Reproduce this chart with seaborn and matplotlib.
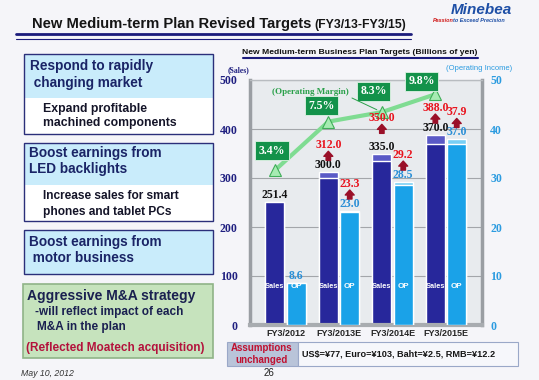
import numpy as np
import pandas as pd
import matplotlib.pyplot as plt
import matplotlib.patches as mpatches
from matplotlib.transforms import offset_copy
import seaborn as sns

# Datos del gráfico (miles de millones de yenes)
years = ['FY3/2012', 'FY3/2013E', 'FY3/2014E', 'FY3/2015E']
sales_plan = [251.4, 300.0, 335.0, 370.0]
sales_revised = [251.4, 312.0, 350.0, 388.0]
op_plan = [8.6, 23.0, 28.5, 37.0]
op_revised = [8.6, 23.3, 29.2, 37.9]
margin = [3.4, 7.5, 8.3, 9.8]
sales_ticks = [0, 100, 200, 300, 400, 500]
op_ticks = [0, 10, 20, 30, 40, 50]
fx_note = 'US$=¥77, Euro=¥103, Baht=¥2.5, RMB=¥12.2'

sns.set_style('white')
plt.rcParams['font.family'] = ['Liberation Sans', 'DejaVu Sans']
SERIF = 'Liberation Serif'

W, H = 539, 380
fig = plt.figure(figsize=(W / 100, H / 100), dpi=100, facecolor='#f5f5f9')


def fx(x):
    return x / W


def fy(y):
    return 1 - y / H


def rect(x0, y0, x1, y1, fc, ec='none', lw=0):
    fig.add_artist(mpatches.Rectangle((fx(x0), fy(y1)), (x1 - x0) / W, (y1 - y0) / H,
                                      transform=fig.transFigure, fc=fc, ec=ec, lw=lw))


def hline(x0, x1, y, color, lw):
    fig.add_artist(plt.Line2D([fx(x0), fx(x1)], [fy(y), fy(y)], color=color, lw=lw,
                              transform=fig.transFigure))


# Título de la diapositiva
fig.text(fx(32), fy(24), 'New Medium-term Plan Revised Targets', fontsize=10.6,
         fontweight='bold', va='center', color='#151515')
fig.text(fx(314), fy(25), '(FY3/13-FY3/15)', fontsize=8.8, fontweight='bold', va='center',
         color='#151515')
hline(16, 411, 34, '#1c1c7c', 2)
hline(16, 411, 38.5, '#1c1c7c', 0.8)
fig.text(fx(481), fy(10), 'Minebea', fontsize=11, fontweight='bold', style='italic',
         ha='center', va='center', color='#1e4fa6')
fig.text(fx(433), fy(21), 'Passion', fontsize=4, fontweight='bold', style='italic',
         va='center', color='#d01818')
fig.text(fx(453), fy(21), 'to Exceed Precision', fontsize=4, fontweight='bold',
         style='italic', va='center', color='#1e4fa6')

# Cuadros de la izquierda
navy = '#2b2f7a'
rect(24, 54, 213, 134, 'white')
rect(24, 54, 213, 98, '#c9ecfb')
rect(24, 54, 213, 134, 'none', navy, 1)
rect(24, 143, 213, 221, 'white')
rect(24, 143, 213, 185, '#c9ecfb')
rect(24, 143, 213, 221, 'none', navy, 1)
rect(24, 230, 213, 274, '#c9ecfb', navy, 1)
rect(23, 284, 213, 358, '#c6e3bd', '#8fb487', 1.2)

box_texts = [
    (30, 66, 'Respond to rapidly', 9.8, '#1a2466'),
    (30, 83, ' changing market', 9.8, '#1a2466'),
    (43, 109, 'Expand profitable', 8.8, '#141428'),
    (43, 123, 'machined components', 8.8, '#141428'),
    (29, 153, 'Boost earnings from', 9.8, '#1a2466'),
    (29, 169, 'LED backlights', 9.8, '#1a2466'),
    (43, 196, 'Increase sales for smart', 8.6, '#141428'),
    (43, 212, 'phones and tablet PCs', 8.6, '#141428'),
    (29, 242, 'Boost earnings from', 9.8, '#1a2466'),
    (29, 258, ' motor business', 9.8, '#1a2466'),
    (27, 296, 'Aggressive M&A strategy', 10, '#1a2050'),
    (35, 312, '-will reflect impact of each', 8.5, '#1a2050'),
    (37, 327, 'M&A in the plan', 8.5, '#1a2050'),
    (26, 348, '(Reflected Moatech acquisition)', 8.5, '#b3123c'),
]
for x, y, s, size, col in box_texts:
    fig.text(fx(x), fy(y), s, fontsize=size, fontweight='bold', va='center', color=col)

fig.text(fx(21), fy(373), 'May 10, 2012', fontsize=6.3, style='italic', va='center', color='#333333')
fig.text(fx(269), fy(373), '26', fontsize=7, ha='center', va='center', color='#222222')

# Cuadro de supuestos
rect(227, 342, 298, 366, '#b9c4d9', '#9aa8c8', 0.8)
rect(298, 342, 518, 366, '#f6f7fb', '#9aa8c8', 0.8)
fig.text(fx(262), fy(348), 'Assumptions', fontsize=7, fontweight='bold', ha='center',
         va='center', color='#c01030')
fig.text(fx(262), fy(360), 'unchanged', fontsize=7, fontweight='bold', ha='center',
         va='center', color='#c01030')
fig.text(fx(302), fy(354), fx_note, fontsize=6.6, fontweight='bold', va='center', color='#151515')

# Título del gráfico
fig.text(fx(360), fy(52), 'New Medium-term Business Plan Targets (Billions of yen)',
         fontsize=6.1, fontweight='bold', ha='center', va='center', color='#111111')
hline(243, 478, 57.5, '#1c1c7c', 1.5)
fig.text(fx(239), fy(70), '(Sales)', fontsize=5.5, fontweight='bold', family=SERIF,
         ha='center', va='center', color='#1f1f80')
fig.text(fx(479), fy(69), '(Operating Income)', fontsize=5.5, ha='center', va='center',
         color='#2b9be0')

# Gráfico principal
ax = fig.add_axes([fx(250), fy(325), 232 / W, 245 / H])
ax.set_facecolor('#e8ebee')

sales_df = pd.DataFrame({'year': years, 'series': 'Sales', 'plan': sales_plan,
                         'revised': sales_revised})
op_df = pd.DataFrame({'year': years, 'series': 'OP', 'plan': op_plan, 'revised': op_revised})
pal_rev = {'Sales': '#5a5ac6', 'OP': '#78cff5'}
pal_plan = {'Sales': '#27279b', 'OP': '#1aa2e8'}
hue_order = ['Sales', 'OP']

for col, pal in [('revised', pal_rev), ('plan', pal_plan)]:
    sns.barplot(data=sales_df, x='year', y=col, hue='series', hue_order=hue_order, order=years,
                palette=pal, width=0.8, gap=0.1, dodge=True, errorbar=None, legend=False,
                saturation=1, ax=ax)

ax2 = ax.twinx()
for col, pal in [('revised', pal_rev), ('plan', pal_plan)]:
    sns.barplot(data=op_df, x='year', y=col, hue='series', hue_order=hue_order, order=years,
                palette=pal, width=0.8, gap=0.1, dodge=True, errorbar=None, legend=False,
                saturation=1, ax=ax2)

ax.set_ylim(0, 500)
ax2.set_ylim(0, 50)
ax.set_xlim(-0.664, 3.672)

# Margen operativo en un eje oculto
ax3 = ax.twinx()
ax3.set_ylim(-9.6, 11.0)
ax3.axis('off')
xpos = np.arange(len(years))
sns.lineplot(x=xpos - 0.2, y=margin, ax=ax3, color='#7fdc92', lw=3, marker='^', markersize=9,
             markerfacecolor='#a6ecb2', markeredgecolor='#3fae58', markeredgewidth=0.8)

box_off = [(-2, 14), (-5, 11.5), (-6, 15), (-10, 9.5)]
for i, m in enumerate(margin):
    ax3.annotate(f'{m}%', xy=(i - 0.2, m), xytext=box_off[i], textcoords='offset points',
                 ha='center', va='center', color='white', fontweight='bold', family=SERIF,
                 fontsize=8.5, bbox=dict(boxstyle='square,pad=0.3', fc='#13924a', ec='#dff3e4', lw=0.6))

ax3.annotate('(Operating Margin)', xy=(2 - 0.2, margin[2]), xytext=(0.26, 0.95),
             textcoords='axes fraction', ha='center', va='center', fontsize=6.5,
             fontweight='bold', family=SERIF, color='#2aa04a',
             arrowprops=dict(arrowstyle='-', color='#2aa04a', lw=0.7, relpos=(0.95, 0.2),
                             shrinkA=0, shrinkB=4))

# Etiquetas de valores
arrow_kw = dict(arrowstyle='simple,head_length=0.45,head_width=0.8,tail_width=0.4',
                color='#9a1028', shrinkA=0, shrinkB=0, mutation_scale=8)
sales_extra = [0, 0, 6, 0]


def value_labels(base_ax, xs, plan, rev, col, extra):
    for i in range(len(plan)):
        ax3.annotate(f'{plan[i]:.1f}', xy=(xs[i], rev[i]), xycoords=base_ax.transData,
                     xytext=(0, 5), textcoords='offset points', ha='center', va='center',
                     fontsize=8.5, fontweight='bold', family=SERIF, color=col)
        if rev[i] != plan[i]:
            ax3.annotate(f'{rev[i]:.1f}', xy=(xs[i], rev[i]), xycoords=base_ax.transData,
                         xytext=(0, 19.5 + extra[i]), textcoords='offset points', ha='center',
                         va='center', fontsize=8.5, fontweight='bold', family=SERIF, color='#e8141e')
            tr = offset_copy(base_ax.transData, fig=fig, x=0, y=15 + extra[i], units='points')
            ax3.annotate('', xy=(xs[i], rev[i]), xycoords=tr, xytext=(0, -6.5),
                         textcoords='offset points', arrowprops=arrow_kw)


value_labels(ax, xpos - 0.2, sales_plan, sales_revised, '#111111', sales_extra)
value_labels(ax2, xpos + 0.2, op_plan, op_revised, '#2b8fd6', [0, 0, 0, 0])

for i in range(len(years)):
    ax3.text(i - 0.2, 78, 'Sales', transform=ax.transData, ha='center', va='center',
             fontsize=5.3, fontweight='bold', color='white')
    ax3.text(i + 0.2, 7.8, 'OP', transform=ax2.transData, ha='center', va='center',
             fontsize=5.8, fontweight='bold', color='white')

# Ejes y estilo
ax.set_xlabel('')
ax.set_ylabel('')
ax2.set_ylabel('')
ax.set_xticks(xpos)
ax.set_xticklabels(years, fontsize=6.5, fontweight='bold')
ax.tick_params(axis='x', length=0, pad=3)
ax.set_yticks(sales_ticks)
ax.tick_params(axis='y', length=0, pad=9, labelcolor='#1f1f80', labelsize=8.5)
ax2.set_yticks(op_ticks)
ax2.tick_params(axis='y', length=0, pad=6, labelcolor='#2b9be0', labelsize=8.5)
for lbl in ax.get_yticklabels() + ax2.get_yticklabels():
    lbl.set_family(SERIF)
    lbl.set_fontweight('bold')

ax.yaxis.grid(True, color='#a3a6aa', lw=0.8)
ax.set_axisbelow(True)
for side in ['left', 'right']:
    ax.spines[side].set_color('#9a9ea3')
    ax.spines[side].set_linewidth(2.5)
ax.spines['top'].set_color('#b8bcc0')
ax.spines['top'].set_linewidth(1)
ax.spines['bottom'].set_color('#a8acb0')
ax.spines['bottom'].set_linewidth(3)
for s in ax2.spines.values():
    s.set_visible(False)

fig.savefig('out.png', dpi=100, facecolor=fig.get_facecolor())
